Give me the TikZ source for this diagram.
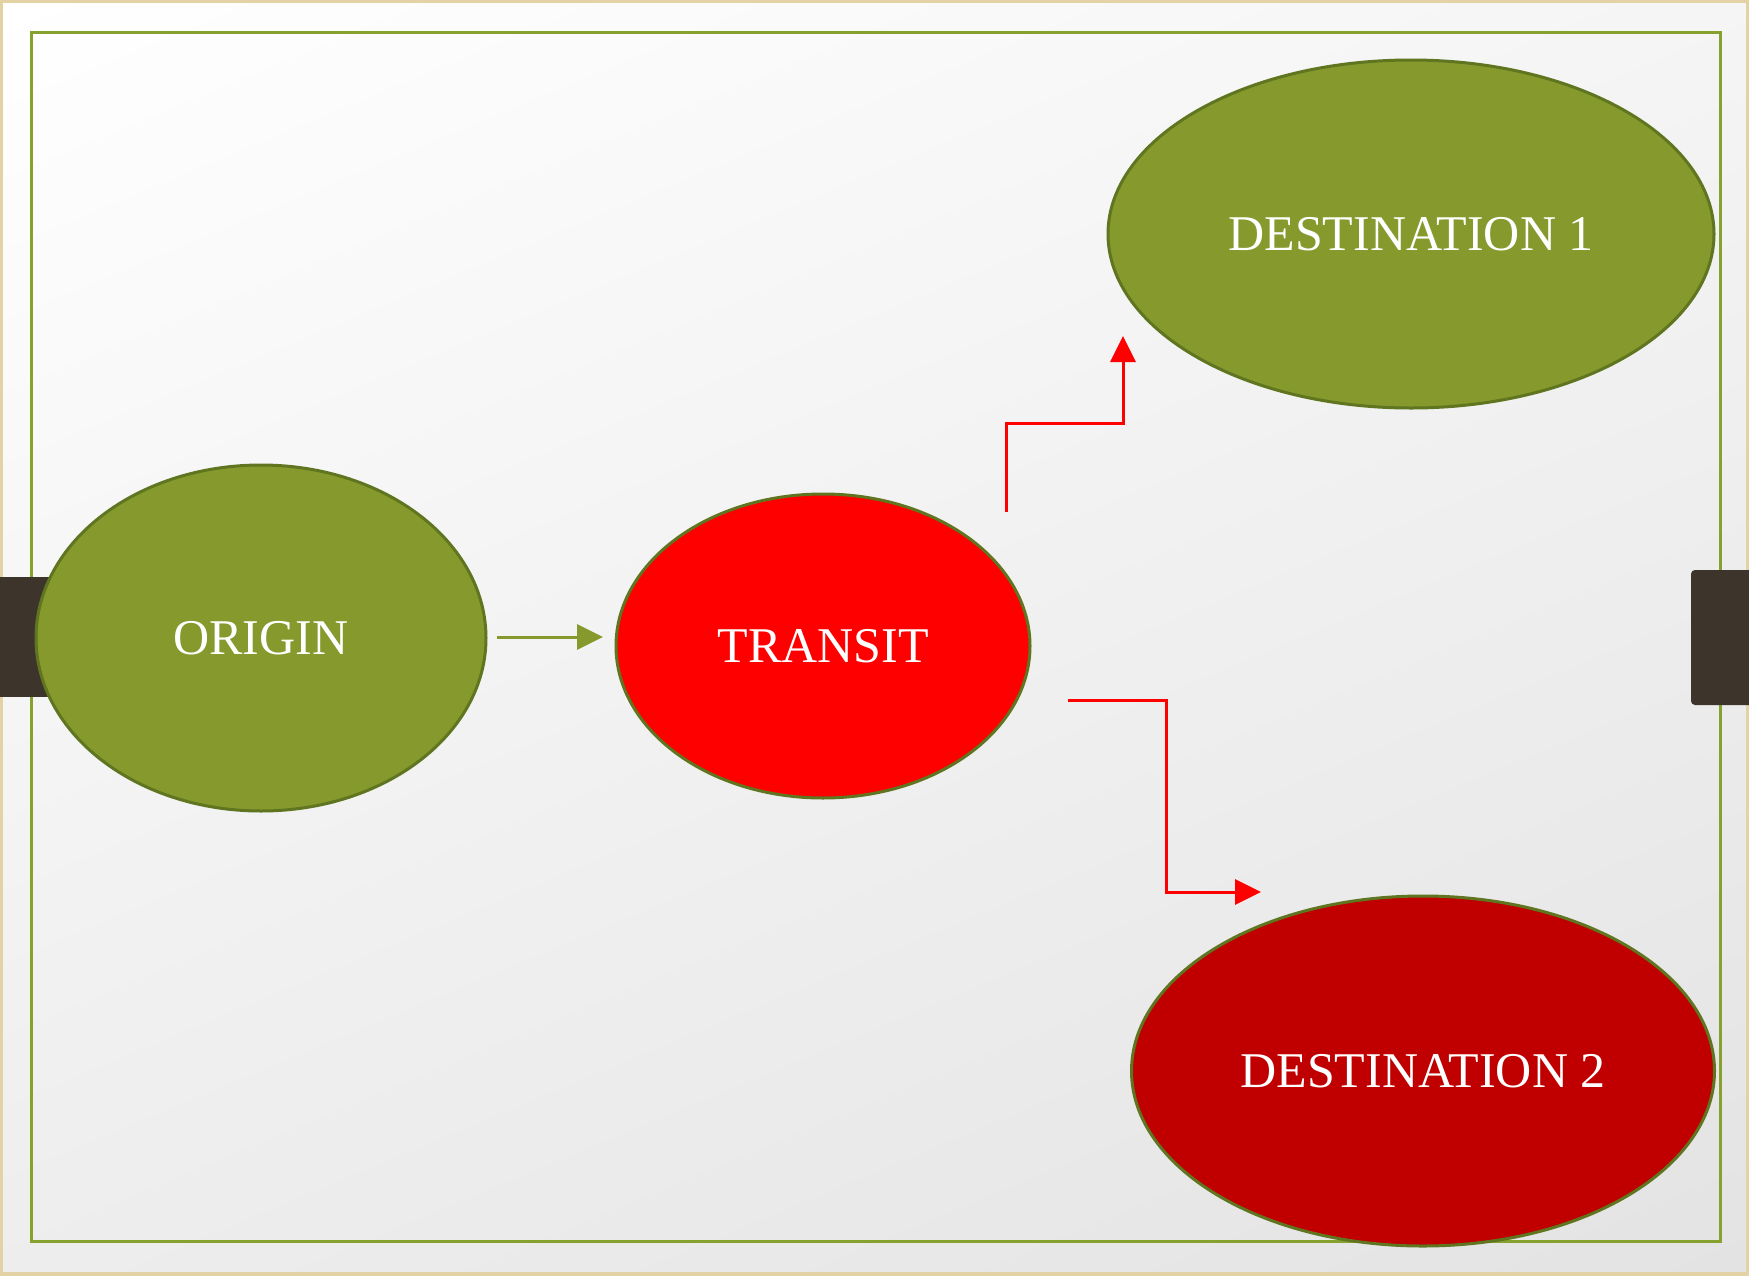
\documentclass[tikz,border=0pt]{standalone}
\usepackage{fontspec}
\setmainfont{Liberation Serif}
\usetikzlibrary{shapes.geometric,arrows.meta,shadings}
\definecolor{olive}{HTML}{86992D}
\definecolor{olivedark}{HTML}{5F7520}
\definecolor{framegreen}{HTML}{86A12D}
\definecolor{darkred}{HTML}{C00000}
\definecolor{barbrown}{HTML}{3D342C}
\definecolor{tan}{HTML}{E3D3A4}
\tikzset{
  blob/.style={ellipse, draw=olivedark, line width=3pt, inner sep=0pt,
    text=white, font=\fontsize{50}{54}\selectfont},
  greenarrow/.style={draw=olive, line width=3pt, -{Triangle[length=26pt,width=25pt]}},
  redarrow/.style={draw=red, line width=3pt, -{Triangle[length=26pt,width=25pt]}},
}
\begin{document}
\begin{tikzpicture}[x=1pt,y=-1pt]
\useasboundingbox (0,0) rectangle (1749,1275);
\shade[upper left=white, upper right=white!96!black, lower left=white!93!black, lower right=white!89!black] (0,0) rectangle (1749,1275);
\draw[tan, line width=4pt] (1,1) rectangle (1748,1274);
\draw[framegreen, line width=3pt] (31,32) rectangle (1720,1241);
% side bars
\fill[barbrown] (0,577) rectangle (60,697);
\fill[barbrown, rounded corners=4pt] (1691,570) rectangle (1760,705);
% nodes
\node[blob, fill=olive, minimum width=450pt, minimum height=346pt] (origin) at (261,638) {ORIGIN};
\node[blob, fill=red, minimum width=414pt, minimum height=304pt] (transit) at (823,646) {TRANSIT};
\node[blob, fill=olive, minimum width=606pt, minimum height=348pt] (dest1) at (1411,234) {DESTINATION 1};
\node[blob, fill=darkred, minimum width=583pt, minimum height=350pt] (dest2) at (1423,1071) {DESTINATION 2};
% connectors
\coordinate (g1) at (497,637);
\coordinate (g2) at (603,637);
\coordinate (u1) at (1006,512);
\coordinate (u2) at (1123,336);
\coordinate (d1) at (1068,700);
\coordinate (d2) at (1261,892);
\draw[greenarrow] (g1) -- (g2);
\draw[redarrow] (u1) |- (1123,423) -- (u2);
\draw[redarrow] (d1) -| (1166,892) -- (d2);
\end{tikzpicture}
\end{document}
